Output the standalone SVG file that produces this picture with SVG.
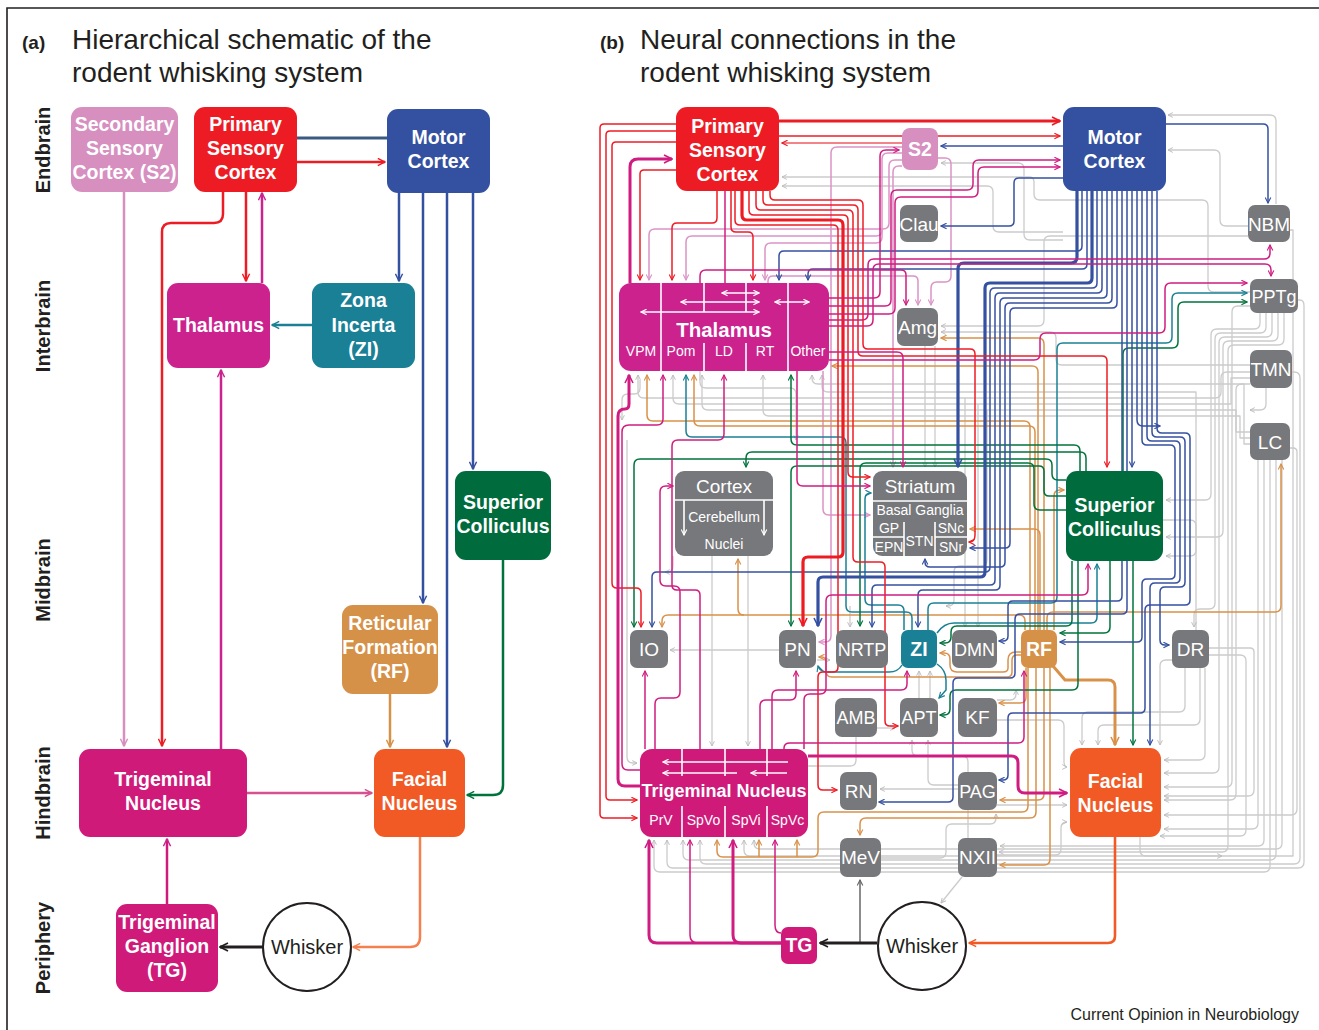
<svg xmlns="http://www.w3.org/2000/svg" width="1319" height="1030" viewBox="0 0 1319 1030">
<style>
.c{fill:none;stroke-linejoin:round}
.gr{stroke:#CBCBCB;stroke-width:1.3}
.r{stroke:#ED1C24;stroke-width:1.5}
.r3{stroke:#ED1C24;stroke-width:3.2}
.b{stroke:#3450A0;stroke-width:1.5}
.b3{stroke:#3450A0;stroke-width:3.2}
.m{stroke:#D01C80;stroke-width:1.5}
.m3{stroke:#D01C80;stroke-width:3}
.p{stroke:#DC93C6;stroke-width:1.5}
.g{stroke:#00733C;stroke-width:1.5}
.t{stroke:#1A8096;stroke-width:1.5}
.o{stroke:#D9914A;stroke-width:1.5}
.o3{stroke:#D9914A;stroke-width:3}
.w{stroke:#fff;stroke-width:1.6;fill:none}
.mk{fill:none;stroke-width:1.6}
.tx{font-family:"Liberation Sans",Arial,Helvetica,sans-serif}
.nt{font-family:"Liberation Sans",Arial,Helvetica,sans-serif;fill:#fff;text-anchor:middle}
.nb{font-weight:bold;font-size:19.5px}
.ng{font-size:19px}
.ns{font-size:14px}
.hd{font-family:"Liberation Sans",Arial,Helvetica,sans-serif;fill:#231F20}
.rl{font-family:"Liberation Sans",Arial,Helvetica,sans-serif;fill:#231F20;font-weight:bold;font-size:20px;text-anchor:middle}
</style>
<defs>
<marker id="aR" viewBox="0 0 10 10" refX="9" refY="5" markerWidth="7" markerHeight="7" markerUnits="userSpaceOnUse" orient="auto"><path d="M1,1L9,5L1,9" class="mk" stroke="#ED1C24"/></marker>
<marker id="aR3" viewBox="0 0 10 10" refX="9" refY="5" markerWidth="10" markerHeight="10" markerUnits="userSpaceOnUse" orient="auto"><path d="M1,1L9,5L1,9" class="mk" stroke="#ED1C24" stroke-width="2.2"/></marker>
<marker id="aB" viewBox="0 0 10 10" refX="9" refY="5" markerWidth="7" markerHeight="7" markerUnits="userSpaceOnUse" orient="auto"><path d="M1,1L9,5L1,9" class="mk" stroke="#3450A0"/></marker>
<marker id="aB3" viewBox="0 0 10 10" refX="9" refY="5" markerWidth="10" markerHeight="10" markerUnits="userSpaceOnUse" orient="auto"><path d="M1,1L9,5L1,9" class="mk" stroke="#3450A0" stroke-width="2.2"/></marker>
<marker id="aM" viewBox="0 0 10 10" refX="9" refY="5" markerWidth="7" markerHeight="7" markerUnits="userSpaceOnUse" orient="auto"><path d="M1,1L9,5L1,9" class="mk" stroke="#D01C80"/></marker>
<marker id="aM3" viewBox="0 0 10 10" refX="9" refY="5" markerWidth="10" markerHeight="10" markerUnits="userSpaceOnUse" orient="auto"><path d="M1,1L9,5L1,9" class="mk" stroke="#D01C80" stroke-width="2.2"/></marker>
<marker id="aP" viewBox="0 0 10 10" refX="9" refY="5" markerWidth="7" markerHeight="7" markerUnits="userSpaceOnUse" orient="auto"><path d="M1,1L9,5L1,9" class="mk" stroke="#DC93C6"/></marker>
<marker id="aG" viewBox="0 0 10 10" refX="9" refY="5" markerWidth="7" markerHeight="7" markerUnits="userSpaceOnUse" orient="auto"><path d="M1,1L9,5L1,9" class="mk" stroke="#00733C"/></marker>
<marker id="aT" viewBox="0 0 10 10" refX="9" refY="5" markerWidth="7" markerHeight="7" markerUnits="userSpaceOnUse" orient="auto"><path d="M1,1L9,5L1,9" class="mk" stroke="#1A8096"/></marker>
<marker id="aO" viewBox="0 0 10 10" refX="9" refY="5" markerWidth="7" markerHeight="7" markerUnits="userSpaceOnUse" orient="auto"><path d="M1,1L9,5L1,9" class="mk" stroke="#D9914A"/></marker>
<marker id="aO3" viewBox="0 0 10 10" refX="9" refY="5" markerWidth="10" markerHeight="10" markerUnits="userSpaceOnUse" orient="auto"><path d="M1,1L9,5L1,9" class="mk" stroke="#D9914A" stroke-width="2.2"/></marker>
<marker id="aF" viewBox="0 0 10 10" refX="9" refY="5" markerWidth="9" markerHeight="9" markerUnits="userSpaceOnUse" orient="auto"><path d="M1,1L9,5L1,9" class="mk" stroke="#F15A24" stroke-width="2"/></marker>
<marker id="aFa" viewBox="0 0 10 10" refX="9" refY="5" markerWidth="9" markerHeight="9" markerUnits="userSpaceOnUse" orient="auto"><path d="M1,1L9,5L1,9" class="mk" stroke="#F5804F" stroke-width="2"/></marker>
<marker id="aPk" viewBox="0 0 10 10" refX="9" refY="5" markerWidth="9" markerHeight="9" markerUnits="userSpaceOnUse" orient="auto"><path d="M1,1L9,5L1,9" class="mk" stroke="#D5518F" stroke-width="2"/></marker>
<marker id="aGr" viewBox="0 0 10 10" refX="9" refY="5" markerWidth="6" markerHeight="6" markerUnits="userSpaceOnUse" orient="auto"><path d="M1,1L9,5L1,9" class="mk" stroke="#BDBDBD"/></marker>
<marker id="aK" viewBox="0 0 10 10" refX="9" refY="5" markerWidth="10" markerHeight="10" markerUnits="userSpaceOnUse" orient="auto"><path d="M1,1L9,5L1,9" class="mk" stroke="#231F20" stroke-width="2.2"/></marker>
<marker id="aD" viewBox="0 0 10 10" refX="9" refY="5" markerWidth="7" markerHeight="7" markerUnits="userSpaceOnUse" orient="auto"><path d="M1,1L9,5L1,9" class="mk" stroke="#666"/></marker>
<marker id="aW" viewBox="0 0 10 10" refX="9" refY="5" markerWidth="7" markerHeight="7" markerUnits="userSpaceOnUse" orient="auto-start-reverse"><path d="M1,1L9,5L1,9" class="mk" stroke="#fff"/></marker>
<marker id="aSa" viewBox="0 0 10 10" refX="9" refY="5" markerWidth="9" markerHeight="9" markerUnits="userSpaceOnUse" orient="auto"><path d="M1,1L9,5L1,9" class="mk" stroke="#D68FBF" stroke-width="2"/></marker>
<marker id="aRa" viewBox="0 0 10 10" refX="9" refY="5" markerWidth="9" markerHeight="9" markerUnits="userSpaceOnUse" orient="auto"><path d="M1,1L9,5L1,9" class="mk" stroke="#ED1C24" stroke-width="2"/></marker>
<marker id="aBa" viewBox="0 0 10 10" refX="9" refY="5" markerWidth="9" markerHeight="9" markerUnits="userSpaceOnUse" orient="auto"><path d="M1,1L9,5L1,9" class="mk" stroke="#3450A0" stroke-width="2"/></marker>
<marker id="aMa" viewBox="0 0 10 10" refX="9" refY="5" markerWidth="9" markerHeight="9" markerUnits="userSpaceOnUse" orient="auto"><path d="M1,1L9,5L1,9" class="mk" stroke="#CC228E" stroke-width="2"/></marker>
<marker id="aTa" viewBox="0 0 10 10" refX="9" refY="5" markerWidth="9" markerHeight="9" markerUnits="userSpaceOnUse" orient="auto"><path d="M1,1L9,5L1,9" class="mk" stroke="#1A8096" stroke-width="2"/></marker>
<marker id="aGa" viewBox="0 0 10 10" refX="9" refY="5" markerWidth="9" markerHeight="9" markerUnits="userSpaceOnUse" orient="auto"><path d="M1,1L9,5L1,9" class="mk" stroke="#00733C" stroke-width="2"/></marker>
<marker id="aOa" viewBox="0 0 10 10" refX="9" refY="5" markerWidth="9" markerHeight="9" markerUnits="userSpaceOnUse" orient="auto"><path d="M1,1L9,5L1,9" class="mk" stroke="#D69148" stroke-width="2"/></marker>
</defs>
<rect x="0" y="0" width="1319" height="1030" fill="#fff"/>
<path d="M7,1030 V8 H1319" fill="none" stroke="#231F20" stroke-width="1.6"/>

<g id="titles">
<text class="hd" x="22" y="49" font-size="19" font-weight="bold">(a)</text>
<text class="hd" x="72" y="49" font-size="28">Hierarchical schematic of the</text>
<text class="hd" x="72" y="82" font-size="28">rodent whisking system</text>
<text class="hd" x="600" y="49" font-size="19" font-weight="bold">(b)</text>
<text class="hd" x="640" y="49" font-size="28">Neural connections in the</text>
<text class="hd" x="640" y="82" font-size="28">rodent whisking system</text>
<text class="hd" x="1299" y="1020" font-size="16" text-anchor="end">Current Opinion in Neurobiology</text>
</g>
<g id="region-labels">
<text class="rl" transform="translate(50,150) rotate(-90)">Endbrain</text>
<text class="rl" transform="translate(50,326) rotate(-90)">Interbrain</text>
<text class="rl" transform="translate(50,580) rotate(-90)">Midbrain</text>
<text class="rl" transform="translate(50,793) rotate(-90)">Hindbrain</text>
<text class="rl" transform="translate(50,948) rotate(-90)">Periphery</text>
</g>

<!-- ============ PANEL A connectors ============ -->
<g id="a-connectors" class="c" stroke-width="2.5">
<path d="M124,191 V746" stroke="#D68FBF" marker-end="url(#aSa)"/>
<path d="M297,138 H387" stroke="#3B5A83" stroke-width="3"/>
<path d="M297,162 H385" stroke="#ED1C24" marker-end="url(#aRa)"/>
<path d="M246,191 V281" stroke="#ED1C24" marker-end="url(#aRa)"/>
<path d="M262,283 V193" stroke="#CC228E" marker-end="url(#aMa)"/>
<path d="M223,191 V214 Q223,223 214,223 H171 Q162,223 162,232 V746" stroke="#ED1C24" marker-end="url(#aRa)"/>
<path d="M312,325 H272" stroke="#1A8096" marker-end="url(#aTa)"/>
<path d="M399,193 V281" stroke="#3450A0" marker-end="url(#aBa)"/>
<path d="M423,193 V603" stroke="#3450A0" marker-end="url(#aBa)"/>
<path d="M447,193 V747" stroke="#3450A0" marker-end="url(#aBa)"/>
<path d="M473,193 V469" stroke="#3450A0" marker-end="url(#aBa)"/>
<path d="M221,749 V370" stroke="#CC228E" marker-end="url(#aMa)"/>
<path d="M390,694 V747" stroke="#D69148" marker-end="url(#aOa)"/>
<path d="M503,560 V785 Q503,795 493,795 H467" stroke="#00733C" marker-end="url(#aGa)"/>
<path d="M247,793 H372" stroke="#D5518F" marker-end="url(#aPk)"/>
<path d="M167,904 V839" stroke="#CF1A7A" marker-end="url(#aMa)"/>
<path d="M263,947 H220" stroke="#231F20" stroke-width="3.2" marker-end="url(#aK)"/>
<path d="M420,837 V937 Q420,947 410,947 H353" stroke="#F5804F" marker-end="url(#aFa)"/>
</g>

<!-- ============ PANEL A nodes ============ -->
<g id="a-s2"><rect x="71" y="107" width="107" height="85" rx="11" fill="#D68FBF"/>
<text class="nt nb" x="124.5" y="131">Secondary</text><text class="nt nb" x="124.5" y="155">Sensory</text><text class="nt nb" x="124.5" y="179">Cortex (S2)</text></g>
<g id="a-psc"><rect x="194" y="107" width="103" height="85" rx="11" fill="#ED1C24"/>
<text class="nt nb" x="245.5" y="131">Primary</text><text class="nt nb" x="245.5" y="155">Sensory</text><text class="nt nb" x="245.5" y="179">Cortex</text></g>
<g id="a-motor"><rect x="387" y="109" width="103" height="84" rx="11" fill="#3450A0"/>
<text class="nt nb" x="438.5" y="144">Motor</text><text class="nt nb" x="438.5" y="168">Cortex</text></g>
<g id="a-thalamus"><rect x="167" y="283" width="103" height="85" rx="11" fill="#CC228E"/>
<text class="nt nb" x="218.5" y="332">Thalamus</text></g>
<g id="a-zi"><rect x="312" y="283" width="103" height="85" rx="11" fill="#1A8096"/>
<text class="nt nb" x="363.5" y="307">Zona</text><text class="nt nb" x="363.5" y="332">Incerta</text><text class="nt nb" x="363.5" y="356">(ZI)</text></g>
<g id="a-sc"><rect x="455" y="471" width="96" height="89" rx="11" fill="#006B3C"/>
<text class="nt nb" x="503" y="509">Superior</text><text class="nt nb" x="503" y="533">Colliculus</text></g>
<g id="a-rf"><rect x="342" y="605" width="96" height="89" rx="11" fill="#D69148"/>
<text class="nt nb" x="390" y="630">Reticular</text><text class="nt nb" x="390" y="654">Formation</text><text class="nt nb" x="390" y="678">(RF)</text></g>
<g id="a-tn"><rect x="79" y="749" width="168" height="88" rx="11" fill="#CF1A7A"/>
<text class="nt nb" x="163" y="786">Trigeminal</text><text class="nt nb" x="163" y="810">Nucleus</text></g>
<g id="a-facial"><rect x="374" y="749" width="91" height="88" rx="11" fill="#F15A24"/>
<text class="nt nb" x="419.5" y="786">Facial</text><text class="nt nb" x="419.5" y="810">Nucleus</text></g>
<g id="a-tg"><rect x="116" y="904" width="102" height="88" rx="11" fill="#CF1A7A"/>
<text class="nt nb" x="167" y="929">Trigeminal</text><text class="nt nb" x="167" y="953">Ganglion</text><text class="nt nb" x="167" y="977">(TG)</text></g>
<g id="a-whisker"><circle cx="307" cy="947" r="44" fill="#fff" stroke="#231F20" stroke-width="2"/>
<text class="tx" x="307" y="954" font-size="20" fill="#231F20" text-anchor="middle">Whisker</text></g>

<!-- ============ PANEL B connectors ============ -->
<g id="b-connectors" class="c">
<g class="gr" marker-end="url(#aGr)">
<path d="M1276,204 V121 Q1276,115 1270,115 H1168"/>
<path d="M1248,226 H1226 Q1220,226 1220,220 V156 Q1220,150 1214,150 H1168"/>
<path d="M1063,232 H999 Q993,232 993,226 V192 Q993,186 987,186 H782"/>
<path d="M1063,240 H1030 Q1024,240 1024,234 V169 Q1024,163 1018,163 H941"/>
<path d="M1250,292 H1214 Q1208,292 1208,286 V206 Q1208,200 1202,200 H1040 Q1034,200 1034,194 V182 Q1034,177 1029,177 H782"/>
<path d="M1248,236 H1050 Q1044,236 1044,242 V320 Q1044,326 1038,326 H941"/>
<path d="M1250,365 H1062 Q1056,365 1056,359 V338 Q1056,332 1050,332 H941"/>
<path d="M1250,372 H1227 Q1221,372 1221,378 V392 Q1221,398 1215,398 H644 Q638,398 638,392 V375"/>
<path d="M1250,378 H1231 V404 H679 Q673,404 673,398 V375"/>
<path d="M1250,432 H1236 V410 H708 Q702,410 702,404 V375"/>
<path d="M1250,438 H1240 V416 H769 Q763,416 763,410 V375"/>
<path d="M1250,444 H1244 V384 H818 Q812,384 812,378 V375"/>
<path d="M1196,630 V392 H828 Q822,392 822,386 V375"/>
<path d="M779,650 H670"/>
<path d="M627,440 V757 Q627,763 633,763 H637"/>
<path d="M1250,306 H1238 Q1232,306 1232,312 V781 Q1232,787 1226,787 H1164"/>
<path d="M1250,384 H1242 Q1236,384 1236,390 V794 Q1236,800 1230,800 H1164"/>
<path d="M1290,448 H1293 Q1297,448 1297,452 V809 Q1297,815 1291,815 H1164"/>
<path d="M1298,300 H1300 Q1304,300 1304,306 V862 Q1304,868 1298,868 H673 Q667,868 667,862 V840"/>
<path d="M1292,372 H1294 Q1300,372 1300,378 V858 Q1300,864 1294,864 H706 Q700,864 700,858 V840"/>
<path d="M1290,230 H1293 V856 H750 Q744,856 744,850 V840"/>
<path d="M1260,313 V323 Q1260,329 1254,329 H1217 Q1211,329 1211,335 V494 Q1211,500 1205,500 H1166"/>
<path d="M1266,313 V327 Q1266,333 1260,333 H1221 Q1215,333 1215,339 V603 Q1215,609 1209,609 H1200 Q1194,609 1194,615 V627"/>
<path d="M1272,313 V331 Q1272,337 1266,337 H1225 Q1219,337 1219,343 V767 Q1219,773 1213,773 H1164"/>
<path d="M1278,313 V335 Q1278,341 1272,341 H1229 Q1223,341 1223,347 V531 Q1223,537 1217,537 H1166"/>
<path d="M1284,313 V339 Q1284,345 1278,345 H1234 Q1228,345 1228,351 V846 Q1228,852 1222,852 H999"/>
<path d="M1185,668 V706 Q1185,712 1179,712 H1088 Q1082,712 1082,718 V745"/>
<path d="M1200,668 V719 Q1200,725 1194,725 H1104 Q1098,725 1098,731 V745"/>
<path d="M997,805 H1067"/>
<path d="M997,720 H1058 Q1064,720 1064,726 V761 Q1064,767 1067,767"/>
<path d="M997,855 H1055 Q1061,855 1061,849 V828 Q1061,822 1067,822"/>
<path d="M958,785 H934 Q928,785 928,779 V740"/>
<path d="M968,838 V762 Q968,756 962,756 H918 Q912,756 912,750 V740"/>
<path d="M958,789 H880"/>
<path d="M919,698 V671"/>
<path d="M930,698 V671"/>
<path d="M712,556 V746"/>
<path d="M748,556 V746"/>
<path d="M935,346 V467"/>
<path d="M925,346 V467"/>
<path d="M962,877 L941,903"/>
<path d="M856,737 V760 Q856,766 850,766 H790 Q784,766 784,772 V780"/>
<path d="M1209,655 H1240 Q1246,655 1246,661 V830 Q1246,836 1240,836 H1160"/>
<path d="M640,380 V388 Q640,394 634,394 H628 Q622,394 622,400 V420"/>
<path d="M1172,660 H1166 Q1160,660 1160,666 V745"/>
<path d="M1258,460 V823 Q1258,829 1252,829 H1164"/>
<path d="M1264,460 V840 Q1264,846 1258,846 H1000"/>
<path d="M1270,460 V866 Q1270,872 1264,872 H660 Q654,872 654,866 V840"/>
<path d="M1276,460 V854 Q1276,860 1270,860 H689 Q683,860 683,854 V840"/>
<path d="M1282,460 V843 Q1282,849 1276,849 H760 Q754,849 754,843 V840"/>
<path d="M1205,668 V754 Q1205,760 1199,760 H1164"/>
<path d="M1209,648 H1250 Q1254,648 1254,652 V790 Q1254,796 1248,796 H1164"/>
<path d="M965,398 V627"/>
<path d="M978,404 V627"/>
<path d="M987,410 V560 Q987,566 981,566 H960 Q954,566 954,572 V600 Q954,606 948,606 H946"/>
<path d="M850,606 V627"/>
<path d="M1163,520 H1190 Q1196,520 1196,526 V550 Q1196,556 1190,556 H1166"/>
<path d="M877,728 H895"/>
<path d="M881,858 H940 Q946,858 946,852 V830 Q946,824 952,824 H990 Q996,824 996,818 V814"/>
<path d="M997,700 H1010 Q1016,700 1016,694 V690"/>
<path d="M1266,388 V404 Q1266,410 1260,410 H1250"/>
<path d="M817,660 H830"/>
<path d="M700,371 V382 Q700,388 706,388 H790 Q796,388 796,394 V440"/>
<path d="M1140,837 V850 Q1140,856 1146,856 H1222"/>
<path d="M673,556 V566 Q673,572 667,572 H665"/>
</g>
<path class="c" d="M860,943 V880" stroke="#666" stroke-width="1.5" marker-end="url(#aD)"/>

<g class="p" marker-end="url(#aP)">
<path d="M902,160 H895 Q889,160 889,166 V223 Q889,229 883,229 H655 Q649,229 649,235 V280"/>
<path d="M902,153 H888 Q882,153 882,159 V230 Q882,236 876,236 H692 Q686,236 686,242 V280"/>
<path d="M882,230 V237 Q882,243 876,243 H771 Q765,243 765,249 V280"/>
<path d="M902,166 H899 Q893,166 893,172 V467"/>
<path d="M902,147 H837 Q831,147 831,153 V636 Q831,642 825,642 H819"/>
<path d="M938,158 H945 Q951,158 951,164 V276 Q951,282 945,282 H937 Q931,282 931,288 V305"/>
<path d="M768,283 V281 Q768,276 773,276 H913 Q918,276 918,281 V305"/>
<path d="M823,371 V509 Q823,515 829,515 H870"/>
</g>

<g class="o" marker-end="url(#aO)">
<path d="M1047,630 V618 Q1047,612 1053,612 H1275 Q1281,612 1281,606 V464"/>
<path d="M1054,630 V496 Q1054,490 1060,490 H1064"/>
<path d="M1030,630 V427 Q1030,421 1024,421 H653 Q647,421 647,415 V375"/>
<path d="M1035,630 V432 Q1035,426 1029,426 H700 Q694,426 694,420 V375"/>
<path d="M1025,630 V621 Q1025,615 1019,615 H744 Q738,615 738,609 V559"/>
<path d="M744,615 H668 Q662,615 662,621 V627"/>
<path d="M1021,655 H1017 Q1012,655 1012,660 V672 Q1012,677 1007,677 H832 Q826,677 826,671 V663 Q826,657 822,657 H819"/>
<path d="M1040,630 V535 Q1040,529 1034,529 H970"/>
<path d="M1044,630 V344 Q1044,338 1038,338 H941"/>
<path d="M1038,630 V372 Q1038,366 1032,366 H832"/>
<path d="M1036,668 V812 Q1036,818 1030,818 H866 Q860,818 860,824 V835"/>
<path d="M1050,668 V859 Q1050,865 1044,865 H1000"/>
<path d="M1044,668 V794 Q1044,800 1038,800 H1000"/>
<path d="M1028,668 V806 Q1028,812 1022,812 H824 Q818,812 818,818 V851 Q818,857 812,857 H723 Q717,857 717,851 V840"/>
<path d="M759,857 V840"/>
<path d="M797,857 V840"/>
<path d="M1026,668 V697 Q1026,703 1020,703 H999"/>
<path d="M1021,652 H1016 Q1008,652 1008,660 V668 Q1008,672 1003,672 H957 Q950,672 950,665 V659 Q950,653 944,653 H940"/>
</g>
<path class="c o3" d="M1053,666 L1065,680 H1108 Q1115,680 1115,687 V745" marker-end="url(#aO3)"/>

<g class="t" marker-end="url(#aT)">
<path d="M928,630 V609 Q928,603 934,603 H1051 Q1057,603 1057,597 V349 Q1057,343 1063,343 H1166 Q1172,343 1172,337 V299 Q1172,293 1178,293 H1247"/>
<path d="M912,630 V618 Q912,612 906,612 H852 Q846,612 846,606 V443 Q846,437 840,437 H692 Q686,437 686,431 V375"/>
<path d="M904,630 V611 Q904,605 898,605 H871 Q865,605 865,599 V499 Q865,493 871,493"/>
<path d="M937,633 Q944,623 954,623 H1091 Q1097,623 1097,617 V564"/>
<path d="M937,664 Q946,670 946,680 V690 L939,698"/>
<path d="M902,665 Q898,672 889,672 H828 Q820,672 818,666"/>
</g>

<g class="g" marker-end="url(#aG)">
<path d="M1123,471 V354 Q1123,348 1129,348 H1172 Q1178,348 1178,342 V308 Q1178,302 1184,302 H1247"/>
<path d="M1080,471 V451 Q1080,445 1074,445 H797 Q791,445 791,439 V375"/>
<path d="M1086,471 V458 Q1086,452 1080,452 H752 Q746,452 746,458 V467"/>
<path d="M1066,480 H1058 Q1052,480 1052,474 V465 Q1052,459 1046,459 H640 Q634,459 634,465 V627"/>
<path d="M1066,496 H1049 Q1044,496 1044,491 V471 Q1044,466 1039,466 H797 Q791,466 791,472 V626"/>
<path d="M1066,510 H1040 Q1034,510 1034,504 V469 Q1034,463 1028,463 H866 Q860,463 860,469 V626"/>
<path d="M1072,561 V620 Q1072,626 1066,626 H957 Q951,626 951,632 V637 Q951,643 945,643 H940"/>
<path d="M1078,561 V684 Q1078,690 1072,690 H956 Q950,690 950,696 V709 Q950,715 944,715 H940"/>
<path d="M1110,561 V627 Q1110,633 1104,633 H1060"/>
<path d="M1133,561 V745"/>
</g>

<g class="b" marker-end="url(#aB)">
<path d="M1166,124 H1263 Q1268,124 1268,129 V203"/>
<path d="M1063,146 H941"/>
<path d="M1063,178 H1019 Q1014,178 1014,183 V221 Q1014,226 1009,226 H941"/>
<path d="M1082,191 V246 Q1082,251 1077,251 H784 Q779,251 779,256 V280"/>
<path d="M1087,191 V264 Q1087,269 1082,269 H813 Q808,269 808,274 V280"/>
<path d="M1097,191 V283 Q1097,288 1092,288 H995 Q990,288 990,293 V567 Q990,572 985,572 H657 Q652,572 652,577 V627"/>
<path d="M1102,191 V288 Q1102,293 1097,293 H1000 Q995,293 995,298 V580 Q995,585 990,585 H877 Q872,585 872,590 V627"/>
<path d="M1107,191 V293 Q1107,298 1102,298 H1005 Q1000,298 1000,303 V585 Q1000,590 995,590 H923 Q918,590 918,595 V627"/>
<path d="M1112,191 V298 Q1112,303 1107,303 H1010 Q1005,303 1005,308 V562 Q1005,567 1000,567 H930 Q925,567 925,562 V559"/>
<path d="M1117,191 V303 Q1117,308 1112,308 H1015 Q1010,308 1010,313 V543 Q1010,548 1005,548 H970"/>
<path d="M1122,191 V596 Q1122,601 1117,601 H1013 Q1008,601 1008,606 V636 Q1008,641 1003,641 H999"/>
<path d="M1127,191 V609 Q1127,614 1122,614 H1020 Q1015,614 1015,619 V673 Q1015,678 1010,678 H958 Q953,678 953,683 V797 Q953,802 948,802 H879"/>
<path d="M1132,191 V467"/>
<path d="M1142,191 V440 Q1142,445 1147,445 H1170 Q1175,445 1175,450 V574 Q1175,579 1170,579 H1147 Q1142,579 1142,584 V637 Q1142,642 1137,642 H1060"/>
<path d="M1147,191 V436 Q1147,441 1152,441 H1175 Q1180,441 1180,446 V578 Q1180,583 1175,583 H1155 Q1150,583 1150,588 V745"/>
<path d="M1152,191 V432 Q1152,437 1157,437 H1180 Q1185,437 1185,442 V582 Q1185,587 1180,587 H1165 Q1160,587 1160,592 V640 Q1160,645 1165,645 H1169"/>
<path d="M1157,191 V428 Q1157,433 1162,433 H1185 Q1190,433 1190,438 V600 Q1190,605 1185,605 H1150 Q1145,605 1145,610 V708 Q1145,713 1140,713 H1013 Q1008,713 1008,718 V775 Q1008,780 1003,780 H999"/>
<path d="M1137,191 V420 Q1137,426 1143,426 H1160"/>
</g>
<g class="b3" marker-end="url(#aB3)">
<path d="M1077,191 V257 Q1077,263 1071,263 H964 Q958,263 958,269 V467"/>
<path d="M1092,191 V278 Q1092,283 1087,283 H990 Q985,283 985,288 V572 Q985,577 980,577 H823 Q818,577 818,582 V626"/>
</g>

<g class="r" marker-end="url(#aR)">
<path d="M779,136 H1060"/>
<path d="M902,143 H782" stroke="#EF5A5F"/>
<path d="M676,124 H604 Q600,124 600,128 V814 Q600,818 604,818 H637"/>
<path d="M676,131 H610 Q606,131 606,135 V796 Q606,800 610,800 H637"/>
<path d="M676,142 H616 Q612,142 612,146 V583 Q612,588 617,588 H636 Q641,588 641,593 V627"/>
<path d="M676,170 H644 Q640,170 640,174 V280"/>
<path d="M717,191 V218 Q717,223 712,223 H677 Q672,223 672,228 V280"/>
<path d="M731,191 V227 Q731,232 736,232 H748 Q753,232 753,237 V280"/>
<path d="M735,191 V220 Q735,225 740,225 H833 Q838,225 838,230 V667 Q838,672 833,672 H823 Q818,672 818,677 V785 Q818,790 823,790 H837"/>
<path d="M749,191 V210 Q749,215 754,215 H843 Q848,215 848,220 V472 Q848,477 853,477 H870"/>
<path d="M756,191 V205 Q756,210 761,210 H848 Q853,210 853,215 V557 Q853,562 858,562 H880 Q885,562 885,567 V721 Q885,726 890,726 H898"/>
<path d="M763,191 V200 Q763,205 768,205 H853 Q858,205 858,210 V351 Q858,356 863,356 H1102 Q1107,356 1107,361 V467"/>
<path d="M770,191 V195 Q770,200 775,200 H858 Q863,200 863,205 V344 Q863,349 868,349 H970 Q975,349 975,354 V535 Q975,542 969,542"/>
</g>
<g class="r3" marker-end="url(#aR3)">
<path d="M779,121 H1060"/>
<path d="M742,191 V215 Q742,220 747,220 H838 Q843,220 843,225 V552 Q843,557 838,557 H808 Q803,557 803,562 V626"/>
</g>

<g class="m" marker-end="url(#aM)">
<path d="M725,191 V283" marker-end="none"/>
<path d="M829,298 H874 Q880,298 880,292 V156 Q880,150 886,150 H899"/>
<path d="M829,306 H885 Q891,306 891,300 V196 Q891,190 897,190 H967 Q973,190 973,184 V166 Q973,160 979,160 H1060"/>
<path d="M829,314 H889 Q895,314 895,308 V203 Q895,197 901,197 H972 Q978,197 978,191 V173 Q978,167 984,167 H1060"/>
<path d="M700,283 V276 Q700,270 706,270 H901 Q906,270 906,275 V305"/>
<path d="M829,320 H862 Q868,320 868,314 V265 Q868,259 874,259 H1264 Q1270,259 1270,253 V245"/>
<path d="M829,326 H867 Q873,326 873,320 V270 Q873,264 879,264 H1265 Q1271,264 1271,270 V276"/>
<path d="M829,360 H1034 Q1040,360 1040,354 V339 Q1040,333 1046,333 H1159 Q1165,333 1165,327 V289 Q1165,283 1171,283 H1247"/>
<path d="M797,371 V480 Q797,486 803,486 H870"/>
<path d="M829,352 H897 Q903,352 903,358 V467"/>
<path d="M640,770 H628 Q622,770 622,764 V432 Q622,425 629,425 H657 Q663,425 663,419 V375"/>
<path d="M700,749 V595 Q700,590 695,590 H677 Q672,590 672,585 V446 Q672,440 678,440 H718 Q724,440 724,434 V375"/>
<path d="M645,749 V671"/>
<path d="M760,749 V706 Q760,700 766,700 H790 Q796,700 796,694 V671"/>
<path d="M772,749 V696 Q772,690 778,690 H901 Q907,690 907,684 V671"/>
<path d="M784,749 V748 Q784,743 790,743 H1018 Q1024,743 1024,737 V671"/>
<path d="M804,749 V700 Q804,694 810,694 H820 Q826,694 826,688 V601 Q826,595 832,595 H1082 Q1088,595 1088,589 V564"/>
<path d="M655,749 V704 Q655,698 661,698 H674 Q680,698 680,692 V592 Q680,586 674,586 H666 Q660,586 660,580 V492 Q660,486 666,486 H673"/>
<path d="M781,943 H698 Q690,943 690,935 V840"/>
<path d="M781,933 Q775,933 775,925 V840"/>
</g>
<g class="m3" marker-end="url(#aM3)">
<path d="M630,283 V167 Q630,159 638,159 H672"/>
<path d="M640,786 H625 Q618,786 618,779 V416 Q618,409 625,409 Q629,409 629,404 V375"/>
<path d="M808,756 H1011 Q1018,756 1018,763 V786 Q1018,793 1025,793 H1067"/>
<path d="M781,943 H657 Q649,943 649,935 V840"/>
<path d="M781,943 H741 Q733,943 733,935 V840"/>
</g>

<path class="c" d="M1115,837 V936 Q1115,943 1108,943 H969" stroke="#F15A24" stroke-width="2.6" marker-end="url(#aF)"/>
<path class="c" d="M877,943 H820" stroke="#231F20" stroke-width="3.2" marker-end="url(#aK)"/>
</g>

<!-- ============ PANEL B nodes ============ -->
<g id="b-psc"><rect x="676" y="107" width="103" height="84" rx="11" fill="#ED1C24"/>
<text class="nt nb" x="727.5" y="133">Primary</text><text class="nt nb" x="727.5" y="157">Sensory</text><text class="nt nb" x="727.5" y="181">Cortex</text></g>
<g id="b-s2"><rect x="902" y="128" width="36" height="42" rx="8" fill="#D68FBF"/>
<text class="nt nb" x="920" y="156">S2</text></g>
<g id="b-motor"><rect x="1063" y="107" width="103" height="84" rx="11" fill="#3450A0"/>
<text class="nt nb" x="1114.5" y="144">Motor</text><text class="nt nb" x="1114.5" y="168">Cortex</text></g>
<g id="b-clau"><rect x="900" y="205" width="38" height="37" rx="7" fill="#77787B"/><text class="nt ng" x="919" y="231">Clau</text></g>
<g id="b-nbm"><rect x="1248" y="205" width="42" height="37" rx="7" fill="#77787B"/><text class="nt ng" x="1269" y="231">NBM</text></g>
<g id="b-pptg"><rect x="1250" y="279" width="48" height="34" rx="7" fill="#77787B"/><text class="nt" font-size="18" x="1274" y="303">PPTg</text></g>
<g id="b-amg"><rect x="897" y="308" width="41" height="38" rx="7" fill="#77787B"/><text class="nt ng" x="917.5" y="334">Amg</text></g>
<g id="b-tmn"><rect x="1250" y="350" width="42" height="38" rx="7" fill="#77787B"/><text class="nt ng" x="1271" y="376">TMN</text></g>
<g id="b-lc"><rect x="1250" y="423" width="40" height="37" rx="7" fill="#77787B"/><text class="nt ng" x="1270" y="449">LC</text></g>
<g id="b-thalamus"><rect x="619" y="283" width="210" height="88" rx="12" fill="#CC228E"/>
<path class="w" d="M661,283 V371 M704,283 V312 M704,343 V371 M746,283 V312 M746,343 V371 M788,283 V371"/>
<path class="w" d="M722,293 H759" marker-start="url(#aW)" marker-end="url(#aW)"/>
<path class="w" d="M681,302 H759" marker-start="url(#aW)" marker-end="url(#aW)"/>
<path class="w" d="M641,312 H759" marker-start="url(#aW)" marker-end="url(#aW)"/>
<path class="w" d="M775,302 H809" marker-start="url(#aW)" marker-end="url(#aW)"/>
<text class="nt" font-weight="bold" font-size="20.5" x="724" y="337">Thalamus</text>
<text class="nt ns" x="641" y="356">VPM</text><text class="nt ns" x="681" y="356">Pom</text><text class="nt ns" x="724" y="356">LD</text><text class="nt ns" x="765" y="356">RT</text><text class="nt ns" x="808" y="356">Other</text></g>
<g id="b-cerebellum"><rect x="675" y="471" width="98" height="85" rx="9" fill="#77787B"/>
<path class="w" d="M675,500 H773"/>
<path class="w" d="M684,500 V535" marker-end="url(#aW)"/><path class="w" d="M764,500 V535" marker-end="url(#aW)"/>
<text class="nt ng" x="724" y="493">Cortex</text><text class="nt ns" x="724" y="522">Cerebellum</text><text class="nt ns" x="724" y="549">Nuclei</text></g>
<g id="b-striatum"><rect x="873" y="471" width="94" height="85" rx="9" fill="#77787B"/>
<path class="w" d="M873,501 H967 M904,522 V556 M935,522 V556 M873,537 H904 M935,537 H967"/>
<text class="nt ng" x="920" y="493">Striatum</text><text class="nt ns" x="920" y="515">Basal Ganglia</text>
<text class="nt ns" x="889" y="533">GP</text><text class="nt ns" x="889" y="552">EPN</text><text class="nt ns" x="919.5" y="546">STN</text><text class="nt ns" x="951" y="533">SNc</text><text class="nt ns" x="951" y="552">SNr</text></g>
<g id="b-sc"><rect x="1066" y="471" width="97" height="90" rx="11" fill="#006B3C"/>
<text class="nt nb" x="1114.5" y="512">Superior</text><text class="nt nb" x="1114.5" y="536">Colliculus</text></g>
<g id="b-io"><rect x="630" y="630" width="38" height="38" rx="7" fill="#77787B"/><text class="nt ng" x="649" y="656">IO</text></g>
<g id="b-pn"><rect x="779" y="630" width="37" height="38" rx="7" fill="#77787B"/><text class="nt ng" x="797.5" y="656">PN</text></g>
<g id="b-nrtp"><rect x="836" y="630" width="52" height="38" rx="7" fill="#77787B"/><text class="nt" font-size="18" x="862" y="656">NRTP</text></g>
<g id="b-zi"><rect x="901" y="630" width="36" height="38" rx="7" fill="#1A8096"/><text class="nt nb" x="919" y="656">ZI</text></g>
<g id="b-dmn"><rect x="952" y="630" width="45" height="38" rx="7" fill="#77787B"/><text class="nt" font-size="18" x="974.5" y="656">DMN</text></g>
<g id="b-rf"><rect x="1021" y="630" width="36" height="38" rx="7" fill="#D69148"/><text class="nt nb" x="1039" y="656">RF</text></g>
<g id="b-dr"><rect x="1172" y="630" width="37" height="38" rx="7" fill="#77787B"/><text class="nt ng" x="1190.5" y="656">DR</text></g>
<g id="b-amb"><rect x="835" y="698" width="42" height="39" rx="7" fill="#77787B"/><text class="nt" font-size="18" x="856" y="724">AMB</text></g>
<g id="b-apt"><rect x="900" y="698" width="38" height="39" rx="7" fill="#77787B"/><text class="nt" font-size="18" x="919" y="724">APT</text></g>
<g id="b-kf"><rect x="958" y="698" width="39" height="39" rx="7" fill="#77787B"/><text class="nt ng" x="977.5" y="724">KF</text></g>
<g id="b-tn"><rect x="640" y="749" width="168" height="88" rx="12" fill="#CF1A7A"/>
<path class="w" d="M682,749 V776 M682,806 V837 M725,749 V776 M725,806 V837 M767,749 V776 M767,806 V837"/>
<path class="w" d="M788,762 H663" marker-end="url(#aW)"/>
<path class="w" d="M737,773 H663" marker-end="url(#aW)"/>
<path class="w" d="M787,773 H751" marker-end="url(#aW)"/>
<text class="nt" font-weight="bold" font-size="18" x="724" y="797">Trigeminal Nucleus</text>
<text class="nt ns" x="661" y="825">PrV</text><text class="nt ns" x="703.5" y="825">SpVo</text><text class="nt ns" x="746" y="825">SpVi</text><text class="nt ns" x="787.5" y="825">SpVc</text></g>
<g id="b-rn"><rect x="840" y="772" width="37" height="38" rx="7" fill="#77787B"/><text class="nt ng" x="858.5" y="798">RN</text></g>
<g id="b-pag"><rect x="958" y="772" width="39" height="38" rx="7" fill="#77787B"/><text class="nt" font-size="18" x="977.5" y="798">PAG</text></g>
<g id="b-mev"><rect x="840" y="838" width="41" height="39" rx="7" fill="#77787B"/><text class="nt ng" x="860.5" y="864">MeV</text></g>
<g id="b-nxii"><rect x="958" y="838" width="39" height="39" rx="7" fill="#77787B"/><text class="nt ng" x="977.5" y="864">NXII</text></g>
<g id="b-facial"><rect x="1070" y="748" width="91" height="89" rx="11" fill="#F15A24"/>
<text class="nt nb" x="1115.5" y="788">Facial</text><text class="nt nb" x="1115.5" y="812">Nucleus</text></g>
<g id="b-tg"><rect x="781" y="927" width="36" height="37" rx="7" fill="#CF1A7A"/><text class="nt nb" x="799" y="952">TG</text></g>
<g id="b-whisker"><circle cx="922" cy="946" r="44" fill="#fff" stroke="#231F20" stroke-width="2"/>
<text class="tx" x="922" y="953" font-size="20" fill="#231F20" text-anchor="middle">Whisker</text></g>
</svg>
